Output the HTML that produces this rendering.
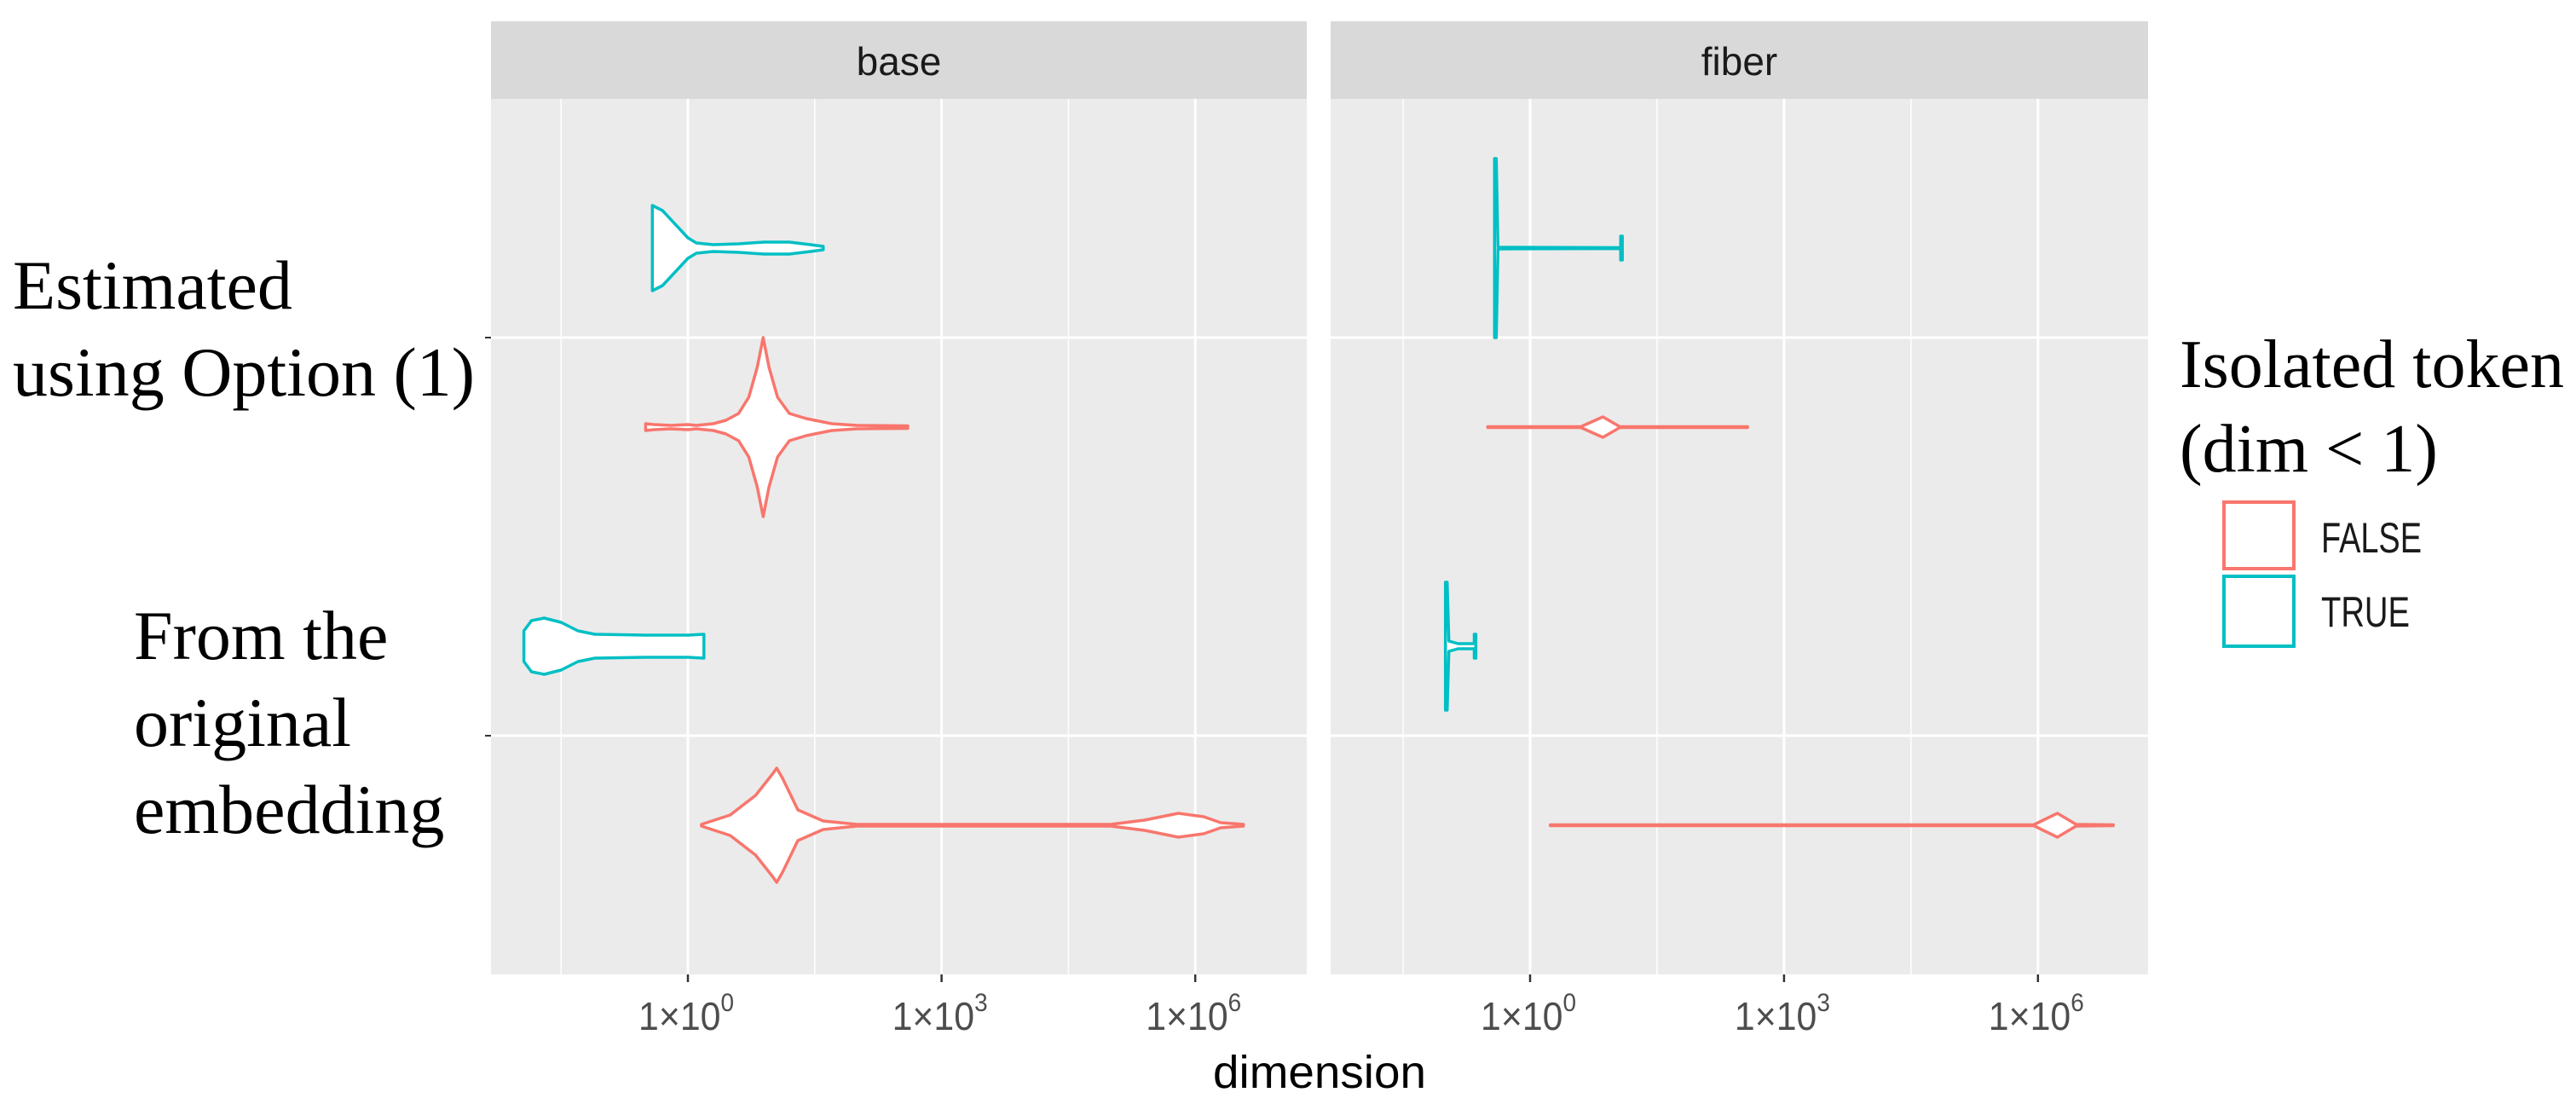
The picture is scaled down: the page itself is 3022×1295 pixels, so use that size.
<!DOCTYPE html>
<html><head><meta charset="utf-8"><style>html,body{margin:0;padding:0;background:#fff}svg{display:block}</style></head>
<body>
<svg id="chart" width="3022" height="1295" viewBox="0 0 3022 1295" xmlns="http://www.w3.org/2000/svg">
<rect width="3022" height="1295" fill="#fff"/>
<g id="panels"></g>
<g font-family="'Liberation Serif', serif" font-size="82" fill="#000">
<text x="15" y="362">Estimated</text>
<text x="15" y="464">using Option (1)</text>
<text x="157" y="773">From the</text>
<text x="157" y="875">original</text>
<text x="157" y="977">embedding</text>
</g>
<text x="1548" y="1276" text-anchor="middle" font-family="'Liberation Sans', sans-serif" font-size="54" textLength="250" lengthAdjust="spacingAndGlyphs" fill="#000">dimension</text>
<g>
<text x="2557" y="454" font-family="'Liberation Serif', serif" font-size="80">Isolated token</text>
<text x="2557" y="553" font-family="'Liberation Serif', serif" font-size="80">(dim &lt; 1)</text>
<rect x="2609" y="589" width="82" height="78" fill="#fff" stroke="#F8766D" stroke-width="4"/>
<rect x="2609" y="676" width="82" height="82" fill="#fff" stroke="#00BFC4" stroke-width="4"/>
<text x="2723" y="648" font-family="'Liberation Sans', sans-serif" font-size="50" textLength="118" lengthAdjust="spacingAndGlyphs" fill="#1a1a1a">FALSE</text>
<text x="2723" y="735" font-family="'Liberation Sans', sans-serif" font-size="50" textLength="104" lengthAdjust="spacingAndGlyphs" fill="#1a1a1a">TRUE</text>
</g>
</svg>
<script>
// data: log10(dimension) vs relative density half-width
const panelNames = ["base", "fiber"];
const categories = ["Estimated using Option (1)", "From the original embedding"];
const tickExponents = [0, 3, 6];
const baseEstTrue = [[-0.42,0],[-0.42,50],[-0.3,44],[-0.15,28],[0,12],[0.1,6],[0.3,4],[0.6,5],[0.9,7],[1.2,7],[1.45,4],[1.6,2],[1.6,0]];
const baseEstFalse = [[-0.5,0],[-0.5,4],[-0.4,3],[-0.2,2],[0,3],[0.1,2],[0.3,4],[0.45,8],[0.6,16],[0.72,35],[0.82,70],[0.89,105],[0.96,70],[1.06,35],[1.2,16],[1.4,10],[1.7,4],[2.0,2],[2.6,1.5],[2.6,0]];
const baseOrigTrue = [[-1.94,0],[-1.94,18],[-1.85,30],[-1.7,33],[-1.5,28],[-1.3,18],[-1.1,14],[-0.5,13],[0,13],[0.19,14],[0.19,0]];
const baseOrigFalse = [[0.16,0],[0.16,1],[0.5,12],[0.8,35],[1.0,60],[1.05,67],[1.12,55],[1.3,18],[1.6,5],[2,1],[5,1],[5.4,6],[5.8,14],[6.1,10],[6.3,3],[6.57,1],[6.57,0]];
const fiberEstTrue = [[-0.42,0],[-0.42,105],[-0.4,105],[-0.38,1],[1.07,0.5],[1.07,14],[1.09,14],[1.09,0]];
const fiberEstFalse = [[-0.5,0],[-0.5,0.5],[0.6,0.5],[0.86,12],[1.06,0.5],[2.57,0.5],[2.57,0]];
const fiberOrigTrue = [[-1.0,0],[-1.0,75],[-0.98,75],[-0.96,6],[-0.85,3],[-0.66,3],[-0.66,14],[-0.64,14],[-0.64,0]];
const fiberOrigFalse = [[0.24,0],[0.24,0.5],[5.95,0.5],[6.23,14],[6.45,1],[6.89,0.5],[6.89,0]];

const NS = "http://www.w3.org/2000/svg";
const g = document.getElementById("panels");
const RED = "#F8766D", TEAL = "#00BFC4";
const plotTop = 116, plotBot = 1143, stripTop = 25;
const catY = [396, 863], dodge = 105;
const panels = [
  {x0: 576, x1: 1533, zero: 807, dec: 99.2, sets: [[baseEstTrue, baseEstFalse],[baseOrigTrue, baseOrigFalse]]},
  {x0: 1561, x1: 2520, zero: 1795, dec: 99.3, sets: [[fiberEstTrue, fiberEstFalse],[fiberOrigTrue, fiberOrigFalse]]}
];
function mk(tag, attrs, parent){ const e = document.createElementNS(NS, tag); for (const k in attrs) e.setAttribute(k, attrs[k]); (parent||g).appendChild(e); return e; }
panels.forEach((p, pi) => {
  const xs = l => p.zero + p.dec * l;
  const bg = mk("rect", {x: p.x0, y: plotTop, width: p.x1 - p.x0, height: plotBot - plotTop, fill: "#ebebeb"});
  
  
  const st = mk("rect", {x: p.x0, y: stripTop, width: p.x1 - p.x0, height: plotTop - stripTop, fill: "#d9d9d9"});
  
  
  const stt = mk("text", {x: (p.x0 + p.x1) / 2, y: 88, "text-anchor": "middle", "font-family": "'Liberation Sans', sans-serif", "font-size": 46, fill: "#1a1a1a"});
  stt.textContent = panelNames[pi];
  
  
  [-1.5, 1.5, 4.5].forEach(l => {
    const ln = mk("line", {x1: xs(l), x2: xs(l), y1: plotTop, y2: plotBot, stroke: "#fff", "stroke-width": 1.5});
    
    
  });
  tickExponents.forEach(e => {
    const ln = mk("line", {x1: xs(e), x2: xs(e), y1: plotTop, y2: plotBot, stroke: "#fff", "stroke-width": 3});
    
    
    const tk = mk("line", {x1: xs(e), x2: xs(e), y1: plotBot, y2: plotBot + 9, stroke: "#333", "stroke-width": 2.5});
    
    
    const t = mk("text", {x: xs(e) - 2, y: 1208, "text-anchor": "middle", "font-family": "'Liberation Sans', sans-serif", "font-size": 46, fill: "#4d4d4d", textLength: 112, lengthAdjust: "spacingAndGlyphs"});
    
    
    t.textContent = "1\u00d710";
    const sup = mk("tspan", {dy: -22, "font-size": 30}, t);
    sup.textContent = String(e);
  });
  catY.forEach(y => {
    const ln = mk("line", {x1: p.x0, x2: p.x1, y1: y, y2: y, stroke: "#fff", "stroke-width": 3});
    
    
    if (pi === 0) {
      const tk = mk("line", {x1: p.x0 - 7, x2: p.x0, y1: y, y2: y, stroke: "#333", "stroke-width": 2});
      
      
    }
  });
  p.sets.forEach((pair, ci) => {
    pair.forEach((prof, si) => {
      const cy = catY[ci] + (si === 0 ? -dodge : dodge);
      const top = prof.map(([l, w]) => xs(l).toFixed(1) + "," + (cy - w).toFixed(1));
      const bot = prof.slice().reverse().map(([l, w]) => xs(l).toFixed(1) + "," + (cy + w).toFixed(1));
      const path = mk("path", {d: "M" + top.join(" L") + " L" + bot.join(" L") + " Z", fill: "#fff", stroke: si === 0 ? TEAL : RED, "stroke-width": 3.5, "stroke-linejoin": "round"});
      
      
    });
  });
});
</script>
</body></html>
